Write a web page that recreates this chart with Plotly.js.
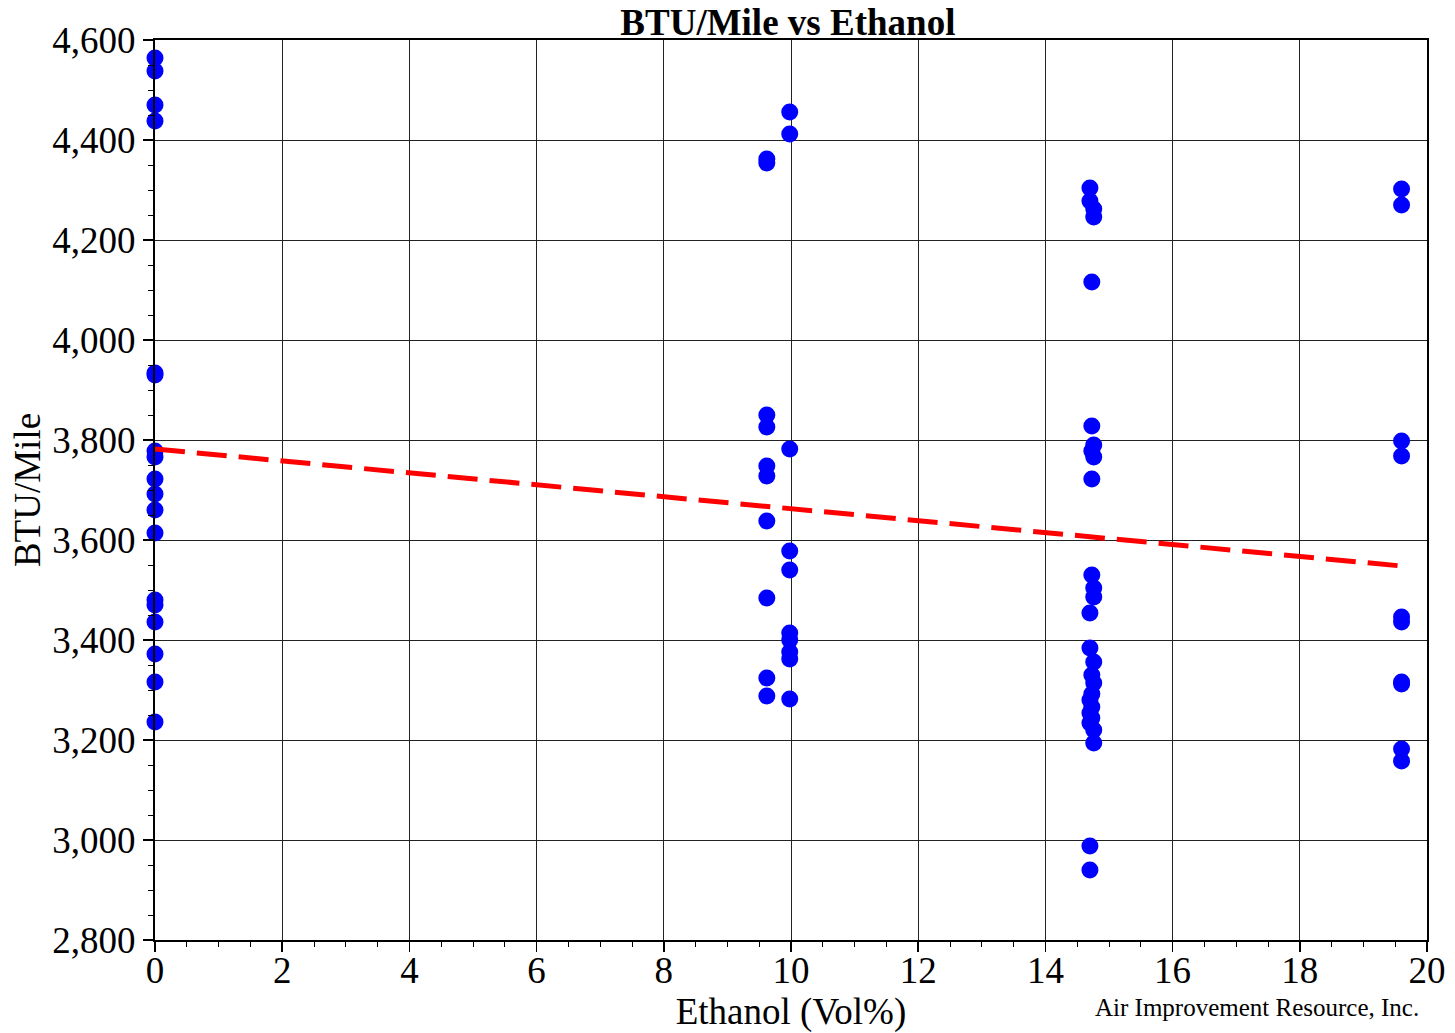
<!DOCTYPE html>
<html>
<head>
<meta charset="utf-8">
<script src="https://cdn.plot.ly/plotly-3.0.1.min.js"></script>
<style>html,body{margin:0;padding:0;background:#fff;}#chart{width:1455px;height:1033px;}</style>
</head>
<body>
<div id="chart"></div>
<script>
// Ethanol 0 vol%
const e0X = [0,0,0,0,0,0,0,0,0,0,0,0,0,0,0,0,0,0];
const e0Y = [4564,4538,4470,4438,3934,3930,3778,3766,3722,3692,3660,3614,3480,3470,3436,3372,3316,3236];
// Ethanol ~9.6 vol%
const e96X = [9.62,9.62,9.62,9.62,9.62,9.62,9.62,9.62,9.62,9.62];
const e96Y = [4362,4354,3850,3826,3748,3728,3638,3484,3324,3288];
// Ethanol 10 vol%
const e10X = [9.98,9.98,9.98,9.98,9.98,9.98,9.98,9.98,9.98,9.98];
const e10Y = [4456,4412,3782,3578,3540,3414,3400,3376,3362,3282];
// Ethanol ~14.7 vol%
const e147X = [14.7,14.7,14.76,14.76,14.73,14.73,14.76,14.73,14.76,14.73,14.73,14.76,14.76,14.7,14.7,14.76,14.73,14.76,14.73,14.7,14.73,14.7,14.73,14.7,14.76,14.76,14.7,14.7];
const e147Y = [4304,4278,4262,4246,4116,3828,3790,3778,3766,3722,3530,3504,3486,3454,3384,3356,3330,3314,3292,3280,3266,3254,3244,3234,3220,3194,2988,2940];
// Ethanol ~19.6 vol%
const e196X = [19.6,19.6,19.6,19.6,19.6,19.6,19.6,19.6,19.6,19.6];
const e196Y = [4302,4270,3798,3768,3446,3436,3316,3312,3182,3158];
// Linear trend
const trendX = [0, 19.6];
const trendY = [3782, 3548];

const allX = [].concat(e0X, e96X, e10X, e147X, e196X);
const allY = [].concat(e0Y, e96Y, e10Y, e147Y, e196Y);

const serif = 'Liberation Serif, Times New Roman, serif';

const traces = [
  {x: allX, y: allY, type: 'scatter', mode: 'markers',
   marker: {color: '#0000FF', size: 17, line: {width: 0}}, cliponaxis: false, hoverinfo: 'x+y'},
  {x: trendX, y: trendY, type: 'scatter', mode: 'lines',
   line: {color: '#FF0000', width: 5, dash: '30px,12px'}, hoverinfo: 'skip'}
];

const layout = {
  width: 1455, height: 1033,
  margin: {l: 155, r: 28, t: 40, b: 93},
  paper_bgcolor: '#fff', plot_bgcolor: '#fff',
  showlegend: false,
  font: {family: serif, color: '#000'},
  title: {text: '<b>BTU/Mile vs Ethanol</b>', font: {family: serif, size: 37, color: '#000'},
          x: 0.5415, xanchor: 'center', y: 0.979, yanchor: 'middle'},
  xaxis: {
    range: [0, 20], dtick: 2, tick0: 0,
    showgrid: true, gridcolor: '#222', gridwidth: 1,
    zeroline: false,
    showline: true, linecolor: '#000', linewidth: 2, mirror: true,
    ticks: 'outside', ticklen: 10, tickwidth: 1.5, tickcolor: '#000',
    ticklabelstandoff: -13,
    minor: {dtick: 0.5, ticks: 'outside', ticklen: 5, tickwidth: 1, tickcolor: '#000', showgrid: false},
    tickfont: {family: serif, size: 37, color: '#000'},
    title: {text: 'Ethanol (Vol%)', font: {family: serif, size: 37, color: '#000'}, standoff: 19}
  },
  yaxis: {
    range: [2800, 4600], dtick: 200, tick0: 2800,
    tickformat: ',d',
    showgrid: true, gridcolor: '#222', gridwidth: 1,
    zeroline: false,
    showline: true, linecolor: '#000', linewidth: 2, mirror: true,
    ticks: 'outside', ticklen: 10, tickwidth: 1.5, tickcolor: '#000',
    minor: {dtick: 50, ticks: 'outside', ticklen: 5, tickwidth: 1, tickcolor: '#000', showgrid: false},
    tickfont: {family: serif, size: 37, color: '#000'},
    title: {text: 'BTU/Mile', font: {family: serif, size: 37, color: '#000'}, standoff: 0}
  },
  annotations: [
    {text: 'Air Improvement Resource, Inc.', xref: 'paper', yref: 'paper',
     x: 0.9955, y: -0.075, xanchor: 'right', yanchor: 'middle', showarrow: false,
     font: {family: serif, size: 25, color: '#000'}}
  ]
};

Plotly.newPlot('chart', traces, layout, {displayModeBar: false, staticPlot: true});
</script>
</body>
</html>
